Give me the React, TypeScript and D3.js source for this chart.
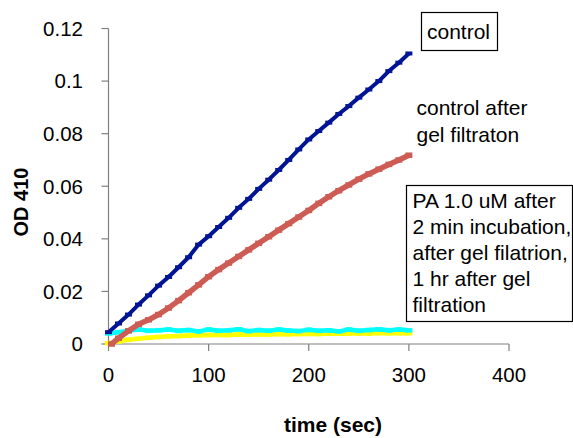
import React from "react";
import * as d3 from "d3";

const times = [0,10,20,30,40,50,60,70,80,90,100,110,120,130,140,150,160,170,180,190,200,210,220,230,240,250,260,270,280,290,300];

const controlOD = [0.0045,0.0078,0.0112,0.0150,0.0185,0.0222,0.0255,0.0292,0.0330,0.0378,0.0410,0.0445,0.0480,0.0518,0.0552,0.0590,0.0625,0.0662,0.0700,0.0740,0.0778,0.0810,0.0842,0.0875,0.0905,0.0937,0.0968,0.1000,0.1038,0.1070,0.1105];

const gelTimes = [3,10,20,30,40,50,60,70,80,90,100,110,120,130,140,150,160,170,180,190,200,210,220,230,240,250,260,270,280,290,300];
const gelOD = [0.0000,0.0022,0.0050,0.0075,0.0092,0.0112,0.0137,0.0165,0.0195,0.0225,0.0256,0.0283,0.0308,0.0333,0.0358,0.0383,0.0408,0.0433,0.0458,0.0483,0.0508,0.0535,0.0560,0.0583,0.0605,0.0627,0.0647,0.0665,0.0683,0.0700,0.0718];

const paCyanOD = [0.0040,0.0045,0.0050,0.0055,0.0050,0.0052,0.0055,0.0050,0.0053,0.0048,0.0055,0.0050,0.0052,0.0056,0.0049,0.0053,0.0050,0.0055,0.0051,0.0049,0.0054,0.0050,0.0052,0.0048,0.0055,0.0050,0.0053,0.0056,0.0052,0.0055,0.0052];

const paYellowOD = [0.0003,0.0010,0.0016,0.0020,0.0024,0.0027,0.0029,0.0030,0.0032,0.0033,0.0034,0.0035,0.0034,0.0036,0.0035,0.0037,0.0036,0.0038,0.0037,0.0038,0.0039,0.0038,0.0040,0.0039,0.0040,0.0041,0.0040,0.0042,0.0041,0.0042,0.0041];

const xTicks = [0, 100, 200, 300, 400];
const yTicks = [0, 0.02, 0.04, 0.06, 0.08, 0.1, 0.12];

const paLines = ["PA 1.0 uM after", "2 min incubation,", "after gel filatrion,", "1 hr after gel", "filtration"];
const gelLines = ["control after", "gel filtraton"];

const W = 573, H = 438;
const FONT = "Arial, 'Liberation Sans', sans-serif";

export default function App() {
  const x = d3.scaleLinear().domain([0, 400]).range([108.5, 509]);
  const y = d3.scaleLinear().domain([0, 0.12]).range([344, 28.5]);

  const mk = (ts: number[], vs: number[]) =>
    d3.line<number>().x((_, i) => x(ts[i])).y((v) => y(v))(vs) || "";

  const series = [
    { ts: times, vs: paYellowOD, color: "#FFFF00", w: 4.5 },
    { ts: times, vs: paCyanOD, color: "#00FFFF", w: 4.5 },
    { ts: gelTimes, vs: gelOD, color: "#CD5C55", w: 5.5 },
    { ts: times, vs: controlOD, color: "#001494", w: 4 },
  ];

  return (
    <svg width={W} height={H} style={{ position: "absolute", left: 0, top: 0, background: "#fff" }} fontFamily={FONT}>
      <rect x={0} y={0} width={W} height={H} fill="#fff" />
      <line x1={x(0)} x2={x(0)} y1={y(0.12)} y2={y(0)} stroke="#808080" strokeWidth={1.2} />
      <line x1={x(0)} x2={x(400)} y1={y(0)} y2={y(0)} stroke="#808080" strokeWidth={1.2} />
      {yTicks.map((t) => (
        <g key={"y" + t}>
          <line x1={x(0) - 7} x2={x(0)} y1={y(t)} y2={y(t)} stroke="#808080" strokeWidth={1.2} />
          <text x={83} y={y(t)} dy="0.36em" textAnchor="end" fontSize={20.5} fill="#000">{t}</text>
        </g>
      ))}
      {xTicks.map((t) => (
        <g key={"x" + t}>
          <line x1={x(t)} x2={x(t)} y1={y(0)} y2={y(0) + 7} stroke="#808080" strokeWidth={1.2} />
          <text x={x(t)} y={382} textAnchor="middle" fontSize={20.5} fill="#000">{t}</text>
        </g>
      ))}
      <text x={333} y={432} textAnchor="middle" fontSize={21} fontWeight="bold">time (sec)</text>
      <text transform={`translate(28,${202}) rotate(-90)`} textAnchor="middle" fontSize={20} fontWeight="bold">OD 410</text>

      {series.map((s, i) => (
        <g key={i}>
          <path d={mk(s.ts, s.vs)} fill="none" stroke={s.color} strokeWidth={s.w} strokeLinejoin="round" />
          {s.vs.map((v, j) => (
            <rect key={j} x={x(s.ts[j]) - 3.5} y={y(v) - s.w / 2} width={7} height={s.w} fill={s.color} />
          ))}
        </g>
      ))}

      <rect x={421.5} y={12.5} width={76} height={38} fill="#fff" stroke="#000" strokeWidth={1.2} />
      <text x={427} y={39} fontSize={21}>control</text>

      {gelLines.map((l, i) => (
        <text key={l} x={416.5} y={115 + i * 26.5} fontSize={21}>{l}</text>
      ))}

      <rect x={406.5} y={185.5} width={166} height={136} fill="#fff" stroke="#000" strokeWidth={1.2} />
      {paLines.map((l, i) => (
        <text key={l} x={412.5} y={207.5 + i * 26.2} fontSize={21}>{l}</text>
      ))}
    </svg>
  );
}
